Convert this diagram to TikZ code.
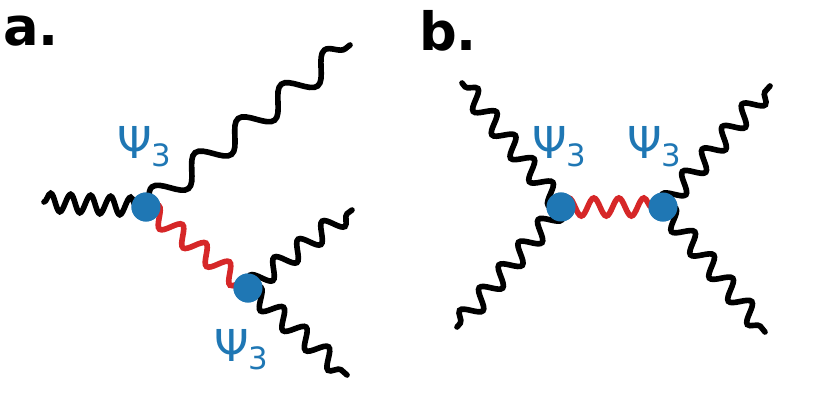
\documentclass[tikz,border=0pt]{standalone}
\usepackage{fontspec}
\setmainfont{DejaVu Sans}
\usetikzlibrary{decorations.pathmorphing}
\definecolor{mblue}{HTML}{1F77B4}
\definecolor{mred}{HTML}{D62728}
\tikzset{
 wv/.style 2 args={line width=1.6pt,line cap=round,decorate,decoration={snake,amplitude=#1,segment length=#2}},
 vtx/.style={circle,fill=mblue,minimum size=0.29cm,inner sep=0pt},
 lab/.style={text=mblue,font=\fontsize{12.5}{14}\selectfont},
 ttl/.style={font=\bfseries\fontsize{15}{18}\selectfont}
}
\begin{document}
\begin{tikzpicture}[x=0.01cm,y=-0.01cm]
\useasboundingbox (0,0) rectangle (830,415);
\node[ttl] (ta) at (31,31) {a.};
\node[ttl] (tb) at (448,31) {b.};
\coordinate (l) at (44,202);
\coordinate (u) at (350,45);
\coordinate (r1) at (352,210);
\coordinate (r2) at (347,375);
\node[vtx] (A) at (146,207) {};
\node[vtx] (B) at (248,288) {};
\draw[wv={0.09cm}{0.2cm}] (l) -- (A.center);
\draw[wv={0.12cm}{0.55cm}] (A.center) -- (u);
\draw[wv={0.09cm}{0.3cm},mred] (A.center) -- (B.center);
\draw[wv={0.09cm}{0.3cm}] (B.center) -- (r1);
\draw[wv={0.09cm}{0.3cm}] (B.center) -- (r2);
\node[vtx] at (A) {};
\node[vtx] at (B) {};
\node[lab] (la) at (145,147) {Ψ\textsubscript{3}};
\node[lab] (lb) at (242,350) {Ψ\textsubscript{3}};
\coordinate (c1) at (462,83);
\coordinate (c2) at (457,327);
\coordinate (d1) at (770,86);
\coordinate (d2) at (765,332);
\node[vtx] (C) at (561,207) {};
\node[vtx] (D) at (663,207) {};
\draw[wv={0.09cm}{0.3cm}] (C.center) -- (c1);
\draw[wv={0.09cm}{0.3cm}] (C.center) -- (c2);
\draw[wv={0.09cm}{0.3cm}] (D.center) -- (d1);
\draw[wv={0.09cm}{0.3cm}] (D.center) -- (d2);
\draw[wv={0.09cm}{0.25cm},mred] (C.center) -- (D.center);
\node[vtx] at (C) {};
\node[vtx] at (D) {};
\node[lab] (lc) at (560,147) {Ψ\textsubscript{3}};
\node[lab] (ld) at (655,147) {Ψ\textsubscript{3}};
\end{tikzpicture}
\end{document}
